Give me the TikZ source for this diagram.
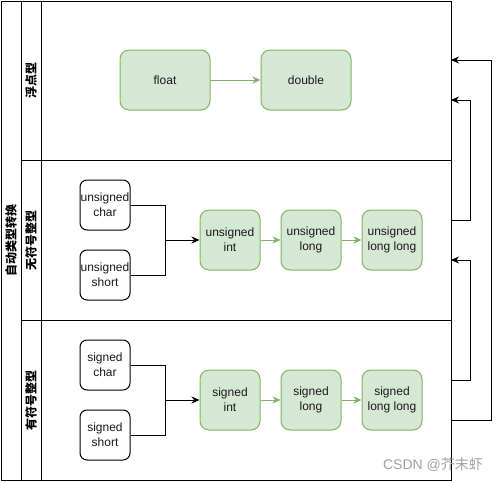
\documentclass[tikz,border=0pt]{standalone}
\usepackage{fontspec}
\setmainfont{Liberation Sans}
\newfontfamily\cjk{Noto Sans CJK SC}
\usetikzlibrary{positioning,arrows.meta}
\definecolor{GreenLine}{HTML}{82B366}
\definecolor{GreenFill}{HTML}{D5E8D4}
\definecolor{DarkText}{HTML}{1A1A1A}

\begin{document}
\begin{tikzpicture}[x=1pt, y=-1pt, line width=1pt,
    node distance=20pt,
    typebox/.style={rectangle, rounded corners=9pt, draw=GreenLine, fill=GreenFill,
        minimum width=60pt, minimum height=60pt, inner sep=0pt,
        font=\fontsize{12}{15}\selectfont, text=DarkText, align=center},
    srcbox/.style={rectangle, rounded corners=7pt, draw=black, fill=white,
        minimum width=50pt, minimum height=50pt, inner sep=0pt,
        font=\fontsize{12}{15}\selectfont, text=DarkText, align=center},
    lanetitle/.style={rotate=90, font=\cjk\bfseries\fontsize{12}{14}\selectfont},
    promote/.style={-{Stealth[length=8pt, width=7pt]}, GreenLine},
    merge/.style={-{Stealth[length=8pt, width=7pt]}, black}
]
\useasboundingbox (0,0) rectangle (499,482);

% pool and lanes
\draw (1,1) rectangle (451,480);
\draw (21,1) -- (21,480);
\draw (41,1) -- (41,480);
\draw (21,160) -- (451,160);
\draw (21,320) -- (451,320);
\node[lanetitle] (pooltitle) at (11,240) {自动类型转换};
\node[lanetitle] (lfloat) at (31,80) {浮点型};
\node[lanetitle] (lunsigned) at (31,240) {无符号整型};
\node[lanetitle] (lsigned) at (31,400) {有符号整型};

% floating point
\node[typebox, minimum width=90pt] (flt) at (165,80) {float};
\node[typebox, minimum width=90pt, right=50pt of flt] (dbl) {double};
\draw[promote] (flt) -- (dbl);

% unsigned
\node[srcbox] (uchar) at (105,205) {unsigned\\char};
\node[srcbox] (ushort) at (105,275) {unsigned\\short};
\node[typebox] (uint) at (230,240) {unsigned\\int};
\node[typebox, right=of uint] (ulong) {unsigned\\long};
\node[typebox, right=of ulong] (ullong) {unsigned\\long long};
\coordinate (ujoin) at (165,240);
\draw (uchar.east) -| (ujoin);
\draw (ushort.east) -| (ujoin);
\draw[merge] (ujoin) -- (uint.west);
\draw[promote] (uint) -- (ulong);
\draw[promote] (ulong) -- (ullong);

% signed
\node[srcbox] (schar) at (105,365) {signed\\char};
\node[srcbox] (sshort) at (105,435) {signed\\short};
\node[typebox] (sint) at (230,400) {signed\\int};
\node[typebox, right=of sint] (slong) {signed\\long};
\node[typebox, right=of slong] (sllong) {signed\\long long};
\coordinate (sjoin) at (165,400);
\draw (schar.east) -| (sjoin);
\draw (sshort.east) -| (sjoin);
\draw[merge] (sjoin) -- (sint.west);
\draw[promote] (sint) -- (slong);
\draw[promote] (slong) -- (sllong);

% lane to lane
\coordinate (finto1) at (451,60);
\coordinate (finto2) at (451,100);
\coordinate (uout) at (451,220);
\coordinate (uinto) at (451,260);
\coordinate (sout1) at (451,380);
\coordinate (sout2) at (451,420);
\draw[merge] (uout) -- ++(19,0) |- (finto2);
\draw[merge] (sout1) -- ++(19,0) |- (uinto);
\draw[merge] (sout2) -- ++(40,0) |- (finto1);

\node[font=\fontsize{14}{16}\selectfont, text=gray!75] (mark) at (433,465) {CSDN @{\cjk 芥末虾}};
\end{tikzpicture}
\end{document}
